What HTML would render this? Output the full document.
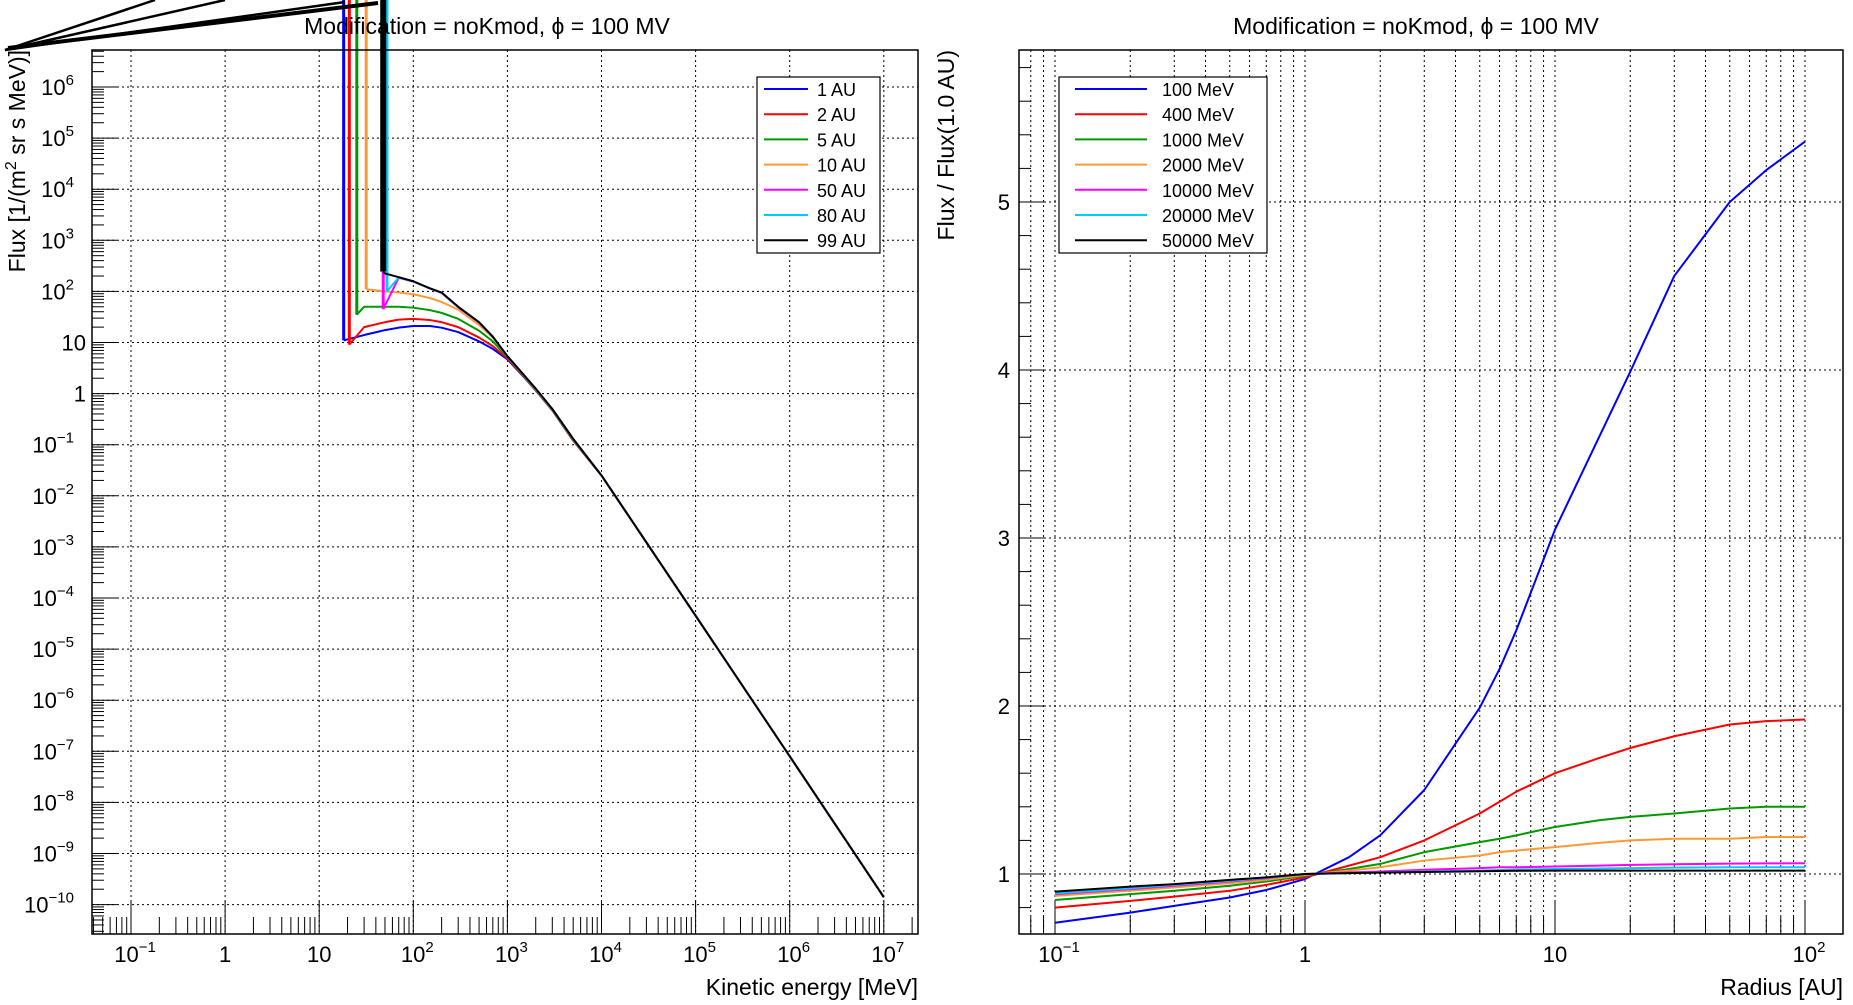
<!DOCTYPE html>
<html><head><meta charset="utf-8"><style>
body{margin:0;background:#fff;}
svg{display:block;font-family:"Liberation Sans",sans-serif;}
</style></head><body>
<svg id="svg" width="1853" height="1005" xmlns="http://www.w3.org/2000/svg">
<rect width="1853" height="1005" fill="#fff"/>
<g id="left"></g>
<g id="right"></g>
</svg>
<script>
// ---------- LEFT CHART DATA ----------
const seriesNames = ["1 AU","2 AU","5 AU","10 AU","50 AU","80 AU","99 AU"];
const seriesColors = ["#0000ff","#ff0000","#009900","#ff9933","#ff00ff","#00ccff","#000000"];
const cutEnergy = [18.2, 20.9, 25.1, 31.6, 47.9, 52.5, 47.9];
const cutFlux = [11, 9.1, 35, 110, 45, 100, 245];
const energyGrid = [30, 50, 70, 100, 150, 200, 300, 500, 700, 1000, 1500, 2000, 3000, 5000, 1e4, 1e5, 1e6, 1e7];
const flux1AU  = [14, 17.5, 19.5, 21, 21, 19.5, 16, 10.5, 7.5, 4.7, 2.1, 1.15, 0.47, 0.12, 0.025, 4.5e-5, 8e-8, 1.4e-10];
const flux2AU  = [20, 25, 28, 29, 27.5, 25, 20, 12.5, 8.5, 4.9, 2.15, 1.17, 0.475, 0.121, 0.025, 4.5e-5, 8e-8, 1.4e-10];
const flux5AU  = [50, 50, 50, 48, 43, 38, 29, 17, 10.5, 5.2, 2.2, 1.19, 0.48, 0.123, 0.025, 4.5e-5, 8e-8, 1.4e-10];
const flux10AU = [null, 100, 95, 88, 74, 62, 44, 22, 12.5, 5.35, 2.25, 1.21, 0.49, 0.126, 0.025, 4.5e-5, 8e-8, 1.4e-10];
const flux50AU = [null, null, 185, 155, 114, 93, 49, 24.5, 13, 5.4, 2.3, 1.24, 0.5, 0.13, 0.025, 4.5e-5, 8e-8, 1.4e-10];
const flux80AU = [null, null, 188, 156, 115, 94, 49.5, 24.8, 13, 5.4, 2.3, 1.25, 0.5, 0.13, 0.025, 4.5e-5, 8e-8, 1.4e-10];
const flux99AU = [null, 225, 190, 158, 115, 95, 50, 25, 13, 5.4, 2.3, 1.25, 0.5, 0.13, 0.025, 4.5e-5, 8e-8, 1.4e-10];
const fluxSeries = [flux1AU, flux2AU, flux5AU, flux10AU, flux50AU, flux80AU, flux99AU];
const yDecades = [-10,-9,-8,-7,-6,-5,-4,-3,-2,-1,0,1,2,3,4,5,6];
const xDecades = [-1,0,1,2,3,4,5,6,7];

// ---------- RIGHT CHART DATA ----------
const energyNames = ["100 MeV","400 MeV","1000 MeV","2000 MeV","10000 MeV","20000 MeV","50000 MeV"];
const radii = [0.1, 0.2, 0.3, 0.5, 0.7, 1, 1.5, 2, 3, 5, 6, 7, 10, 15, 20, 30, 50, 70, 100];
const ratio100   = [0.71, 0.77, 0.81, 0.86, 0.905, 0.97, 1.10, 1.23, 1.50, 1.99, 2.22, 2.45, 3.05, 3.6, 3.99, 4.56, 5.00, 5.19, 5.36];
const ratio400   = [0.80, 0.84, 0.865, 0.90, 0.935, 0.98, 1.05, 1.10, 1.20, 1.36, 1.43, 1.49, 1.60, 1.69, 1.75, 1.82, 1.89, 1.91, 1.92];
const ratio1000  = [0.845, 0.88, 0.90, 0.93, 0.955, 0.99, 1.03, 1.06, 1.13, 1.19, 1.21, 1.23, 1.28, 1.32, 1.34, 1.36, 1.39, 1.40, 1.40];
const ratio2000  = [0.87, 0.90, 0.92, 0.945, 0.965, 0.995, 1.02, 1.04, 1.08, 1.11, 1.13, 1.14, 1.16, 1.185, 1.20, 1.21, 1.21, 1.22, 1.22];
const ratio10000 = [0.88, 0.91, 0.93, 0.955, 0.975, 1.0, 1.01, 1.015, 1.025, 1.035, 1.04, 1.04, 1.045, 1.05, 1.054, 1.058, 1.062, 1.063, 1.064];
const ratio20000 = [0.885, 0.915, 0.935, 0.96, 0.978, 1.0, 1.005, 1.01, 1.015, 1.02, 1.024, 1.026, 1.03, 1.033, 1.035, 1.038, 1.04, 1.04, 1.04];
const ratio50000 = [0.895, 0.925, 0.94, 0.965, 0.98, 1.0, 1.005, 1.008, 1.012, 1.016, 1.018, 1.019, 1.02, 1.02, 1.02, 1.02, 1.02, 1.02, 1.02];
const ratioSeries = [ratio100, ratio400, ratio1000, ratio2000, ratio10000, ratio20000, ratio50000];
const rTicks = [1,2,3,4,5];
const rXDecades = [-1,0,1,2];

const NS="http://www.w3.org/2000/svg";
function mk(parent, tag, attrs){const e=document.createElementNS(NS,tag);for(const k in attrs)e.setAttribute(k,attrs[k]);parent.appendChild(e);return e;}

// LEFT axes
const L={x0:92,x1:918,y0:50,y1:934};
const lx = e => 131 + (Math.log10(e)+1)*94.1;
const ly = f => 87 + (6-Math.log10(f))*51.1;
const gl=document.getElementById('left');

xDecades.forEach(d=>{const x=lx(Math.pow(10,d));
 const g=mk(gl,'line',{x1:x,x2:x,y1:L.y0,y2:L.y1,stroke:'#000','stroke-width':1,'stroke-dasharray':'2,3'});
 
 });
yDecades.forEach(d=>{const y=ly(Math.pow(10,d));
 const g=mk(gl,'line',{x1:L.x0,x2:L.x1,y1:y,y2:y,stroke:'#000','stroke-width':1,'stroke-dasharray':'2,3'});
 
 });
for(let d=-2; d<=7; d++){for(let m=1;m<=9;m++){const x=lx(m*Math.pow(10,d)); if(x<L.x0||x>L.x1)continue;
 const len=m===1?33:17;
 const t=mk(gl,'line',{x1:x,x2:x,y1:L.y1,y2:L.y1-len,stroke:'#000','stroke-width':1});
 
 }}
for(let d=-11; d<=6; d++){for(let m=1;m<=9;m++){const y=ly(m*Math.pow(10,d)); if(y<L.y0||y>L.y1)continue;
 const len=m===1?25:12;
 const t=mk(gl,'line',{x1:L.x0,x2:L.x0+len,y1:y,y2:y,stroke:'#000','stroke-width':1});
 
 }}
function powLabel(parent,x,y,d,anchor,name){
 const t=mk(parent,'text',{x:x,y:y,'font-size':22,'text-anchor':anchor,fill:'#000'});
 
 
 if(d===0){t.textContent='1';}
 else if(d===1){t.textContent='10';}
 else {const a=mk(t,'tspan',{});a.textContent='10';const b=mk(t,'tspan',{dy:-10,'font-size':15});b.textContent=String(d).replace('-','\u2212');}
 return t;}
yDecades.forEach(d=>powLabel(gl,d===0||d===1?86:74,ly(Math.pow(10,d))+8,d,'end','y-tick-label'));
xDecades.forEach(d=>powLabel(gl,lx(Math.pow(10,d))+((d===0||d===1)?0:4),962,d,'middle','x-tick-label'));

fluxSeries.forEach((arr,i)=>{
 const c=seriesColors[i];
 const sp=mk(gl,'line',{x1:lx(cutEnergy[i]),x2:lx(cutEnergy[i]),y1:ly(cutFlux[i]),y2:0,stroke:c,'stroke-width':i===6?6:3});
 
 
 let pts=[[lx(cutEnergy[i]),ly(cutFlux[i])]];
 arr.forEach((v,j)=>{if(v!==null&&energyGrid[j]>cutEnergy[i])pts.push([lx(energyGrid[j]),ly(v)]);});
 const p=mk(gl,'polyline',{points:pts.map(q=>q.join(',')).join(' '),fill:'none',stroke:c,'stroke-width':2,'stroke-linejoin':'round'});
 
 
});
[[5,50,155,0],[5,50,225,0],[5,50,345,2],[8,48,378,3]].forEach((s,k)=>{
 const a=mk(gl,'line',{x1:s[0],y1:s[1],x2:s[2],y2:s[3],stroke:'#000','stroke-width':k===3?4:2.5});
 
 });

const fr=mk(gl,'rect',{x:L.x0,y:L.y0,width:L.x1-L.x0,height:L.y1-L.y0,fill:'none',stroke:'#000','stroke-width':1.5});



let t=mk(gl,'text',{x:487,y:34,'font-size':23,'text-anchor':'middle'});


t.textContent='Modification = noKmod, \u03D5 = 100 MV';
t=mk(gl,'text',{x:918,y:995,'font-size':23,'text-anchor':'end'});


t.textContent='Kinetic energy [MeV]';
t=mk(gl,'text',{x:0,y:0,'font-size':23,'text-anchor':'end',transform:'translate(25,50) rotate(-90)'});


(()=>{let a=mk(t,'tspan',{});a.textContent='Flux [1/(m';let b=mk(t,'tspan',{dy:-9,'font-size':16});b.textContent='2';let c=mk(t,'tspan',{dy:9});c.textContent=' sr s MeV)]';})();

let lg=mk(gl,'g',{});


mk(lg,'rect',{x:757,y:77,width:123,height:176,fill:'#fff',stroke:'#000','stroke-width':1.2});
seriesNames.forEach((n,i)=>{const y=89+i*25.2;
 const e=mk(lg,'g',{});
 
 
 mk(e,'line',{x1:764,x2:808,y1:y,y2:y,stroke:seriesColors[i],'stroke-width':2});
 const tx=mk(e,'text',{x:817,y:y+7,'font-size':18});tx.textContent=n;});

// RIGHT axes
const R={x0:1019,x1:1843,y0:50,y1:934};
const rx = r => 1305 + Math.log10(r)*250;
const ry = v => 874 - (v-1)*168;
const gr=document.getElementById('right');
for(let d=-2; d<=2; d++){for(let m=1;m<=9;m++){const x=rx(m*Math.pow(10,d)); if(x<R.x0||x>R.x1)continue;
 const g=mk(gr,'line',{x1:x,x2:x,y1:R.y0,y2:R.y1,stroke:'#000','stroke-width':1,'stroke-dasharray':'2,3'});
 
 
 const len=m===1?33:17;
 const tk=mk(gr,'line',{x1:x,x2:x,y1:R.y1,y2:R.y1-len,stroke:'#000','stroke-width':1});
 
 }}
rTicks.forEach(v=>{const y=ry(v);
 const g=mk(gr,'line',{x1:R.x0,x2:R.x1,y1:y,y2:y,stroke:'#000','stroke-width':1,'stroke-dasharray':'2,3'});
 
 
 const l=mk(gr,'text',{x:1010,y:y+8,'font-size':22,'text-anchor':'end'});
 
 
 l.textContent=String(v);});
for(let v=0.6; v<=5.95; v+=0.2){const y=ry(v); if(y<R.y0||y>R.y1)continue;
 const major=Math.abs(v-Math.round(v))<0.01;
 const tk=mk(gr,'line',{x1:R.x0,x2:R.x0+(major?25:12),y1:y,y2:y,stroke:'#000','stroke-width':1});
 
 }
rXDecades.forEach(d=>powLabel(gr,rx(Math.pow(10,d))+((d===0||d===1)?0:4),962,d,'middle','x-tick-label'));

ratioSeries.forEach((arr,i)=>{
 const pts=arr.map((v,j)=>rx(radii[j])+','+ry(v)).join(' ');
 const p=mk(gr,'polyline',{points:pts,fill:'none',stroke:seriesColors[i],'stroke-width':2,'stroke-linejoin':'round'});
 
 
});
const fr2=mk(gr,'rect',{x:R.x0,y:R.y0,width:R.x1-R.x0,height:R.y1-R.y0,fill:'none',stroke:'#000','stroke-width':1.5});


t=mk(gr,'text',{x:1416,y:34,'font-size':23,'text-anchor':'middle'});


t.textContent='Modification = noKmod, \u03D5 = 100 MV';
t=mk(gr,'text',{x:1843,y:995,'font-size':23,'text-anchor':'end'});


t.textContent='Radius [AU]';
t=mk(gr,'text',{x:0,y:0,'font-size':23,'text-anchor':'end',transform:'translate(954,50) rotate(-90)'});


t.textContent='Flux / Flux(1.0 AU)';
lg=mk(gr,'g',{});


mk(lg,'rect',{x:1059,y:77,width:208,height:176,fill:'#fff',stroke:'#000','stroke-width':1.2});
energyNames.forEach((n,i)=>{const y=89+i*25.2;
 const e=mk(lg,'g',{});
 
 
 mk(e,'line',{x1:1075,x2:1147,y1:y,y2:y,stroke:seriesColors[i],'stroke-width':2});
 const tx=mk(e,'text',{x:1162,y:y+7,'font-size':18});tx.textContent=n;});
</script>
</body></html>
